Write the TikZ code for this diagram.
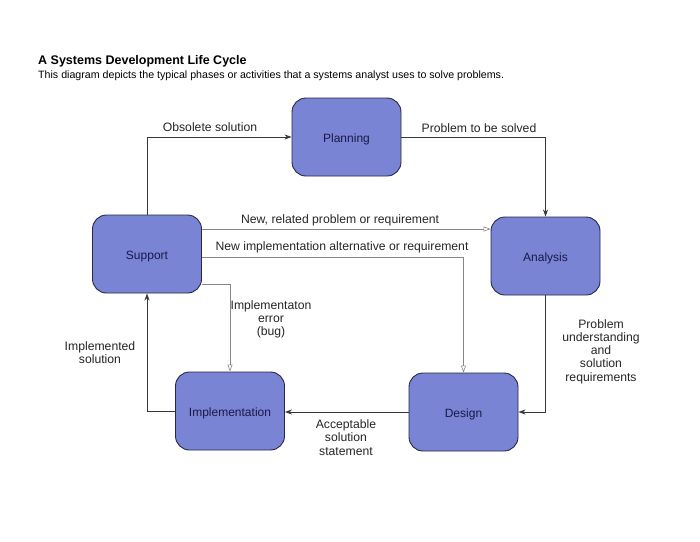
\documentclass[tikz,border=0pt]{standalone}
\usepackage{fontspec}
\setmainfont{Liberation Sans}
\usetikzlibrary{arrows.meta}
\definecolor{boxfill}{RGB}{122,132,212}
\definecolor{boxline}{RGB}{40,40,70}
\definecolor{boxtext}{RGB}{25,25,70}
\definecolor{mainline}{RGB}{55,55,55}
\definecolor{subline}{RGB}{135,135,135}
\newcommand{\phasetext}[1]{\raisebox{-2.5pt}[\height][\depth]{#1}}
\tikzset{
  phase/.style={draw=boxline, line width=0.9pt, fill=boxfill, rounded corners=14pt,
    minimum width=109pt, minimum height=78pt, inner sep=0pt,
    font=\fontsize{12}{13}\selectfont, text=boxtext},
  mainflow/.style={draw=mainline, line width=0.8pt, -{Stealth[length=7pt,width=5pt]}},
  subflow/.style={draw=subline, line width=0.6pt, -{Triangle[open,length=7pt,width=5pt]}},
  lbl/.style={font=\fontsize{12.2}{13.2}\selectfont, text=black!85, align=center, inner sep=0pt, yshift=-1.5pt}
}
\begin{document}
\begin{tikzpicture}[x=1pt,y=-1pt]
\useasboundingbox[fill=white] (0,0) rectangle (700,541);
\node[anchor=base west, inner sep=0pt, font=\fontsize{12.5}{14}\selectfont\bfseries] (title) at (38,64) {A Systems Development Life Cycle};
\node[anchor=base west, inner sep=0pt, font=\fontsize{10.65}{12}\selectfont] (sub) at (38,78) {This diagram depicts the typical phases or activities that a systems analyst uses to solve problems.};

\node[phase] (plan) at (346.5,137) {\phasetext{Planning}};
\node[phase] (supp) at (147,254) {\phasetext{Support}};
\node[phase] (anal) at (545.5,256) {\phasetext{Analysis}};
\node[phase] (impl) at (230,411) {\phasetext{Implementation}};
\node[phase] (desg) at (463.5,412) {\phasetext{Design}};

% main cycle
\draw[mainflow] (supp.north) |- (plan.west);
\draw[mainflow] (plan.east) -| (anal.north);
\draw[mainflow] (anal.south) |- (desg.east);
\draw[mainflow] (desg.west) -- (desg.west -| impl.east);
\draw[mainflow] (impl.west) -| (supp.south);

% secondary flows
\coordinate (s1) at (supp.east |- 0,229);
\coordinate (s2) at (supp.east |- 0,257);
\coordinate (s3) at (supp.east |- 0,284);
\draw[subflow] (s1) -- (s1 -| anal.west);
\draw[subflow] (s2) -| (desg.north);
\draw[subflow] (s3) -| (impl.north);

% labels
\node[lbl] (l1) at (210,126) {Obsolete solution};
\node[lbl] (l2) at (479,127) {Problem to be solved};
\node[lbl] (l3) at (340,219) {New, related problem or requirement};
\node[lbl] (l4) at (342,246) {New implementation alternative or requirement};
\node[lbl] (l5) at (271,318) {Implementaton\\error\\(bug)};
\node[lbl] (l6) at (100,351) {Implemented\\solution};
\node[lbl] (l7) at (601,350) {Problem\\understanding\\and\\solution\\requirements};
\node[lbl] (l8) at (346,436) {Acceptable\\solution\\statement};
\end{tikzpicture}
\end{document}
